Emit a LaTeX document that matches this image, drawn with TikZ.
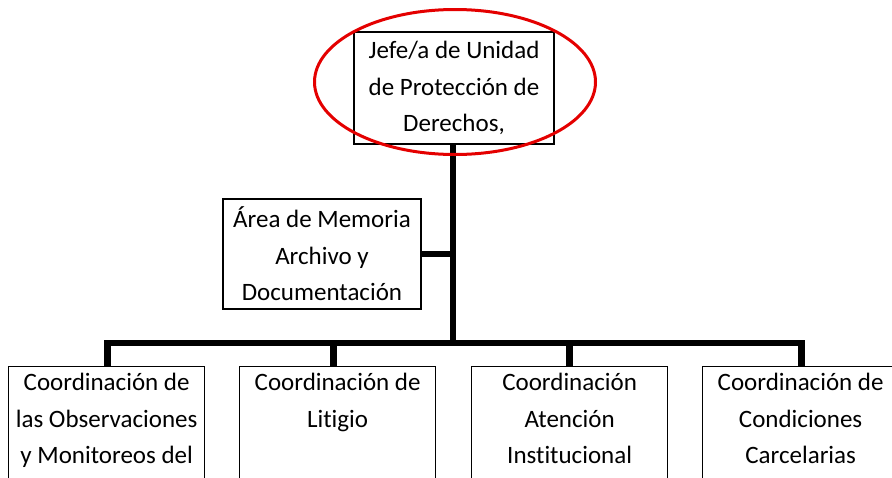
\documentclass[tikz,border=0pt]{standalone}
\usepackage{fontspec}
\setmainfont[Ligatures=NoCommon]{Carlito}
\usetikzlibrary{shapes.geometric}
\definecolor{ovalred}{RGB}{228,0,0}
\tikzset{
  box/.style={draw=black, line width=1.3pt, fill=white, inner sep=0pt, align=center,
    font=\fontsize{25}{36.5}\selectfont},
  conn/.style={draw=black, line width=6.5pt, line join=miter},
  oval/.style={draw=ovalred, ellipse, line width=3pt, inner sep=0pt}
}
\newcommand{\btext}[1]{\parbox[t][150pt][t]{196pt}{\centering\rule{0pt}{24pt}#1}}
\begin{document}
\begin{tikzpicture}[x=1pt,y=-1pt]
\useasboundingbox (0,0) rectangle (892,477);
% top box
\node[box, minimum width=200pt, minimum height=112pt] (jefe) at (454,88)
  {Jefe/a de Unidad\\de Protección de\\Derechos,};
\node[box, minimum width=198pt, minimum height=110pt] (area) at (322,254)
  {Área de Memoria\\Archivo y\\Documentación};
% bottom boxes
\node[box, anchor=north west] (c1) at (8,366) {\btext{Coordinación de\\las Observaciones\\y Monitoreos del}};
\node[box, anchor=north west] (c2) at (239,366) {\btext{Coordinación de\\Litigio}};
\node[box, anchor=north west] (c3) at (471,366) {\btext{Coordinación\\Atención\\Institucional}};
\node[box, anchor=north west] (c4) at (702,366) {\btext{Coordinación de\\Condiciones\\Carcelarias}};
% connectors
\coordinate (hub) at (453,343);
\coordinate (trunktop) at (jefe.south -| hub);
\draw[conn] (trunktop) -- (hub);
\draw[conn] (area.east) -- (area.east -| hub);
\draw[conn] ([xshift=1pt]c1.north) |- (hub) -| ([xshift=1pt]c4.north);
\draw[conn] ([xshift=-4pt]c2.north) -- ([xshift=-4pt]c2.north |- hub);
\draw[conn] (c3.north) -- (c3.north |- hub);
% red oval
\node[oval, minimum width=281pt, minimum height=145pt] (mark) at (455,82) {};
\end{tikzpicture}
\end{document}
